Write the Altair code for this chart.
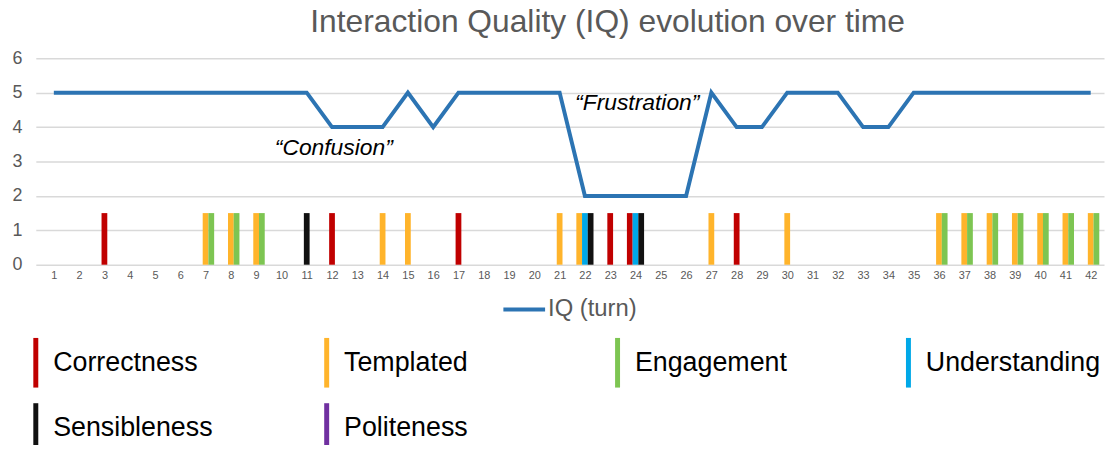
import altair as alt
import pandas as pd

# ---- data ----
turns = list(range(1, 43))
iq = [5, 5, 5, 5, 5, 5, 5, 5, 5, 5, 5,
      4, 4, 4, 5, 4, 5, 5, 5, 5, 5,
      2, 2, 2, 2, 2, 5, 4, 4, 5, 5, 5,
      4, 4, 5, 5, 5, 5, 5, 5, 5, 5]

categories = ["Correctness", "Templated", "Engagement", "Understanding", "Sensibleness", "Politeness"]
cat_colors = ["#C00000", "#FFB42B", "#7DC552", "#00A8E8", "#111111", "#7030A0"]

bar_turns = [3, 7, 7, 8, 8, 9, 9, 11, 12, 14, 15, 17, 21,
             22, 22, 22, 23, 24, 24, 24, 27, 28, 30,
             36, 36, 37, 37, 38, 38, 39, 39, 40, 40, 41, 41, 42, 42]
bar_cats = ["Correctness",
            "Templated", "Engagement", "Templated", "Engagement", "Templated", "Engagement",
            "Sensibleness", "Correctness", "Templated", "Templated", "Correctness", "Templated",
            "Templated", "Understanding", "Sensibleness", "Correctness",
            "Correctness", "Understanding", "Sensibleness",
            "Templated", "Correctness", "Templated",
            "Templated", "Engagement", "Templated", "Engagement", "Templated", "Engagement",
            "Templated", "Engagement", "Templated", "Engagement", "Templated", "Engagement",
            "Templated", "Engagement"]
bar_values = [1.5] * len(bar_turns)

annot_text = ["\u201cConfusion\u201d", "\u201cFrustration\u201d"]
annot_turn = [12.07, 24.07]
annot_y = [3.40, 4.71]

# ---- tables ----
line_df = pd.DataFrame({"turn": turns, "iq": iq, "series": "IQ (turn)"})
bars_df = pd.DataFrame({"turn": bar_turns, "category": bar_cats, "value": bar_values})
bars_df["idx"] = bars_df.groupby("turn").cumcount()
bars_df["n"] = bars_df.groupby("turn")["turn"].transform("count")
bars_df["slot"] = bars_df["idx"] - (bars_df["n"] - 1) // 2
ann_df = pd.DataFrame({"label": annot_text, "turn": annot_turn, "y": annot_y})

BAR_W_UNITS = 0.2256

xscale = alt.Scale(domain=[0.483, 42.33], nice=False, zero=False)
yscale = alt.Scale(domain=[0, 6], nice=False)

xaxis = alt.Axis(values=turns, format="d", grid=False, ticks=False, domain=False,
                 labelFontSize=11, labelColor="#595959", labelPadding=5,
                 labelOverlap=False, labelFlush=False, title=None,
                 labelFont="Liberation Sans")
yaxis = alt.Axis(values=[0, 1, 2, 3, 4, 5, 6], grid=True, gridColor="#D9D9D9", gridWidth=1.5,
                 ticks=False, domain=False, labelFontSize=18, labelColor="#595959",
                 labelPadding=14, title=None, labelFont="Liberation Sans",
                 labelOverlap=False, labelFlush=False)

bars = alt.Chart(bars_df).transform_calculate(
    xpos=f"datum.turn + datum.slot * {BAR_W_UNITS}"
).mark_bar(width=5.8).encode(
    x=alt.X("xpos:Q", scale=xscale, axis=xaxis),
    y=alt.Y("value:Q", scale=yscale, axis=yaxis),
    color=alt.Color("category:N",
                    scale=alt.Scale(domain=categories, range=cat_colors),
                    legend=alt.Legend(
                        title=None, orient="none", legendX=-13.5, legendY=293,
                        direction="horizontal", values=categories,
                        columns=4, gridAlign="all", columnPadding=86, rowPadding=15,
                        symbolType="M-0.2,-2L0.2,-2L0.2,2L-0.2,2Z", symbolSize=625,
                        symbolStrokeWidth=0, symbolOpacity=1,
                        labelFontSize=27, labelColor="#000000", labelOffset=4,
                        labelFont="Liberation Sans", labelLimit=400, padding=0)),
)

line = alt.Chart(line_df).mark_line(strokeWidth=4, strokeJoin="miter").encode(
    x=alt.X("turn:Q", scale=xscale, axis=xaxis),
    y=alt.Y("iq:Q", scale=yscale, axis=yaxis),
    stroke=alt.Stroke("series:N",
                      scale=alt.Scale(domain=["IQ (turn)"], range=["#2C74B3"]),
                      legend=alt.Legend(
                          title=None, orient="none", legendX=469, legendY=230,
                          symbolType="stroke", symbolSize=1764, symbolStrokeWidth=4,
                          labelFontSize=24, labelColor="#595959", labelOffset=1,
                          labelFont="Liberation Sans", padding=0)),
)

ann = alt.Chart(ann_df).mark_text(fontSize=23, fontStyle="italic", color="#000000",
                                  font="Liberation Sans").encode(
    x=alt.X("turn:Q", scale=xscale, axis=xaxis),
    y=alt.Y("y:Q", scale=yscale, axis=yaxis),
    text="label:N",
)

chart = alt.layer(bars, line, ann).resolve_scale(color="independent").properties(
    width=1076, height=208,
    padding={"left": 28, "top": 49, "right": 2, "bottom": 180},
    autosize=alt.AutoSizeParams(type="none"),
    title=alt.TitleParams("Interaction Quality (IQ) evolution over time",
                          fontSize=32, color="#595959", font="Liberation Sans",
                          fontWeight="normal", anchor="middle", dx=38, dy=15,
                          frame="group", baseline="alphabetic", offset=0),
).configure_view(stroke=None)

chart.save("out.html", embed_options={"renderer": "svg", "actions": False})
